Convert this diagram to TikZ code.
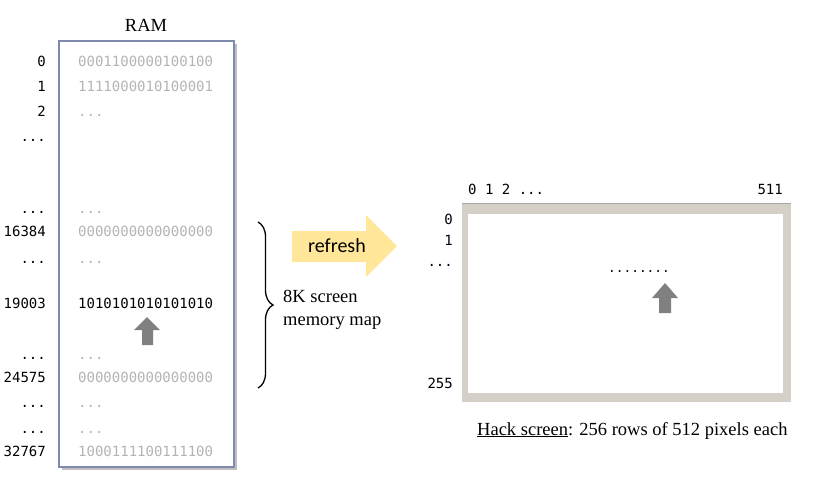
\documentclass[tikz,border=0pt]{standalone}
\usepackage{fontspec}
\setmainfont{Liberation Serif}
\setmonofont{DejaVu Sans Mono}
\newfontfamily\calibrifont{Carlito}
\usetikzlibrary{decorations.pathreplacing}
\definecolor{boxblue}{HTML}{7F8AAE}
\definecolor{cellgray}{HTML}{B4B4B4}
\definecolor{refreshyellow}{HTML}{FFE699}
\definecolor{framegray}{HTML}{D4D0C8}
\definecolor{arrowgray}{HTML}{808080}
\begin{document}
\begin{tikzpicture}[x=1pt,y=-1pt,
  addr/.style={anchor=base east, inner sep=0pt, font=\ttfamily\fontsize{14}{14}\selectfont},
  cell/.style={anchor=base west, inner sep=0pt, font=\ttfamily\fontsize{14}{14}\selectfont, text=cellgray},
  hot/.style={cell, text=black},
  serifText/.style={anchor=base west, inner sep=0pt, font=\fontsize{18.5}{22}\selectfont},
  scrlabel/.style={anchor=base east, inner sep=0pt, font=\ttfamily\fontsize{14}{14}\selectfont},
  pointer/.style={fill=arrowgray, draw=none}
]
\useasboundingbox (0,0) rectangle (813,491);

% RAM box
\fill[black!25] (61.5,43.5) rectangle (236.5,469.5);
\draw[boxblue, fill=white, line width=1.5pt] (59,41) rectangle (234,467);
\node[anchor=base, inner sep=0pt, font=\fontsize{18.5}{22}\selectfont] (ramlabel) at (146,31) {RAM};

% address column
\node[addr] (a0) at (46,66) {0};
\node[addr] (a1) at (46,91) {1};
\node[addr] (a2) at (46,116) {2};
\node[addr] (a3) at (46,141) {...};
\node[addr] (a4) at (46,213) {...};
\node[addr] (a5) at (46,236) {16384};
\node[addr] (a6) at (46,263) {...};
\node[addr] (a7) at (46,308) {19003};
\node[addr] (a8) at (46,359) {...};
\node[addr] (a9) at (46,382) {24575};
\node[addr] (a10) at (46,407) {...};
\node[addr] (a11) at (46,433) {...};
\node[addr] (a12) at (46,456) {32767};

% data column
\node[cell] (d0) at (78,66) {0001100000100100};
\node[cell] (d1) at (78,91) {1111000010100001};
\node[cell] (d2) at (78,116) {...};
\node[cell] (d4) at (78,213) {...};
\node[cell] (d5) at (78,236) {0000000000000000};
\node[cell] (d6) at (78,263) {...};
\node[hot]  (d7) at (78,308) {1010101010101010};
\node[cell] (d8) at (78,359) {...};
\node[cell] (d9) at (78,382) {0000000000000000};
\node[cell] (d10) at (78,407) {...};
\node[cell] (d11) at (78,433) {...};
\node[cell] (d12) at (78,456) {1000111100111100};

% pointer arrow in RAM
\fill[pointer] (147,317) -- (160,330) -- (153,330) -- (153,345) -- (142,345) -- (142,330) -- (134,330) -- cycle;

% brace
\coordinate (bracetop) at (258,222);
\coordinate (bracebot) at (258,388);
\draw[decorate, decoration={brace, amplitude=15pt}, line width=1.3pt] (bracetop) -- (bracebot);
\node[serifText] (maplabel1) at (283,302) {8K screen};
\node[serifText] (maplabel2) at (283,325) {memory map};

% refresh arrow
\fill[refreshyellow] (292,231) -- (366,231) -- (366,215) -- (397,246) -- (366,277) -- (366,262) -- (292,262) -- cycle;
\node[anchor=base, inner sep=0pt, font=\calibrifont\fontsize{20}{20}\selectfont] (refresh) at (337,252) {refresh};

% screen
\fill[framegray] (462,203) rectangle (791,402);
\draw[black!35, line width=0.8pt] (462,203.5) -- (791,203.5);
\fill[white] (468,214) rectangle (783,393);

\node[anchor=base west, inner sep=0pt, font=\ttfamily\fontsize{14}{14}\selectfont] (cols) at (468,194) {0 1 2 ...};
\node[scrlabel] (col511) at (783,194) {511};
\node[scrlabel] (r0) at (453,224) {0};
\node[scrlabel] (r1) at (453,245) {1};
\node[scrlabel] (r2) at (453,266) {...};
\node[scrlabel] (r255) at (453,388) {255};

\node[anchor=base west, inner sep=0pt, font=\ttfamily\fontsize{12.8}{13}\selectfont] (pixdots) at (608,272) {........};
\fill[pointer] (665,283) -- (678,298) -- (671,298) -- (671,313) -- (659,313) -- (659,298) -- (652,298) -- cycle;

\node[serifText] (caption) at (477,435) {\underline{Hack screen}: 256 rows of 512 pixels each};
\end{tikzpicture}
\end{document}
